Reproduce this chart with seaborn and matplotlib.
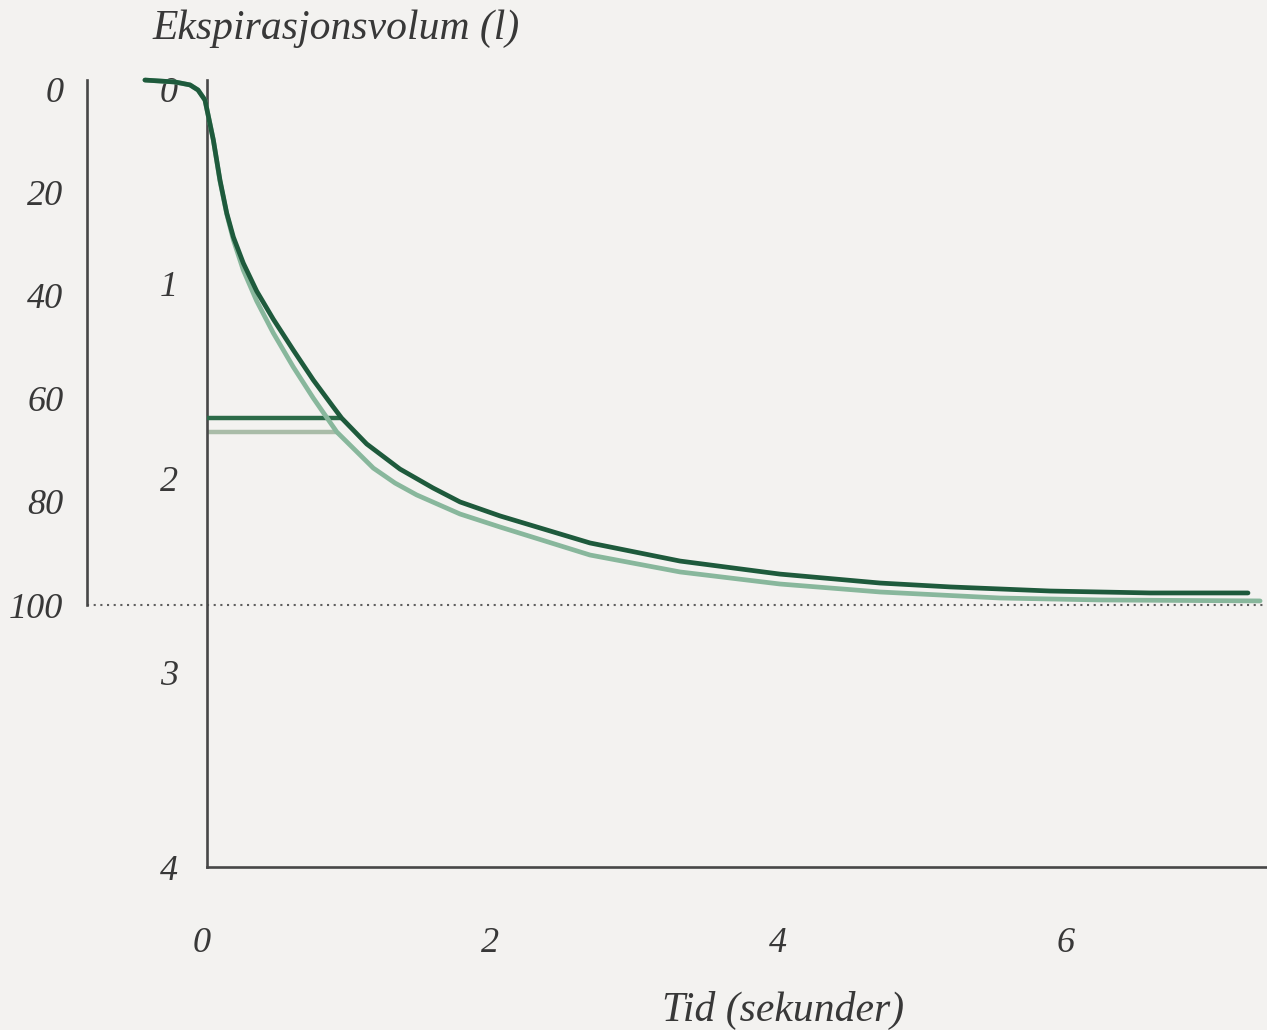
import numpy as np
import pandas as pd
import matplotlib
matplotlib.use("Agg")
import matplotlib.pyplot as plt
from matplotlib.transforms import ScaledTranslation
import seaborn as sns

# Expiratory volume (litres) over time (seconds) for the measured blow
tid_maalt = [-0.431, -0.222, -0.118, -0.0625, -0.014, 0.044, 0.090, 0.137, 0.183,
             0.252, 0.345, 0.460, 0.599, 0.738, 0.877, 0.935, 1.109, 1.340, 1.569,
             1.757, 2.035, 2.660, 3.285, 3.979, 4.674, 5.160, 5.854, 6.549, 7.229]
vol_maalt = [-0.046, -0.036, -0.021, 0.005, 0.057, 0.262, 0.468, 0.638, 0.761,
             0.895, 1.039, 1.183, 1.342, 1.496, 1.635, 1.692, 1.825, 1.954, 2.051,
             2.123, 2.195, 2.334, 2.427, 2.494, 2.540, 2.560, 2.581, 2.591, 2.591]

# Reference (predicted) curve
tid_ref = [-0.431, -0.222, -0.118, -0.0625, -0.014, 0.044, 0.090, 0.137, 0.183,
           0.252, 0.345, 0.460, 0.599, 0.738, 0.901, 1.155, 1.306, 1.456, 1.757,
           2.035, 2.660, 3.285, 3.979, 4.674, 5.507, 6.201, 7.313]
vol_ref = [-0.046, -0.036, -0.021, 0.005, 0.057, 0.262, 0.473, 0.643, 0.776,
           0.931, 1.090, 1.254, 1.429, 1.589, 1.763, 1.949, 2.026, 2.087, 2.185,
           2.252, 2.396, 2.483, 2.545, 2.586, 2.617, 2.627, 2.632]

# FEV1 markers: volume and the time where the marker meets its curve
fev1_maalt, fev1_maalt_t = 1.692, 0.935
fev1_ref, fev1_ref_t = 1.763, 0.901

# Volume corresponding to 100 % on the percentage scale
vol_100 = 2.653

vol_ticks = [0, 1, 2, 3, 4]
tid_ticks = [0, 2, 4, 6]
pct_ticks = [0, 20, 40, 60, 80, 100]

BG = "#f3f2f0"
INK = "#383838"
SPINE = "#474747"
DARK = "#1e5a3c"
LIGHT = "#88b79c"

sns.set_theme(style="white")
plt.rcParams["font.family"] = ["Liberation Serif", "DejaVu Serif"]
plt.rcParams["font.style"] = "italic"

df = pd.concat([
    pd.DataFrame({"tid": tid_ref, "vol": vol_ref, "kurve": "ref"}),
    pd.DataFrame({"tid": tid_maalt, "vol": vol_maalt, "kurve": "maalt"}),
])

fig = plt.figure(figsize=(12.67, 10.30), dpi=100, facecolor=BG)
ax = fig.add_axes([0, 0, 1, 1], facecolor=BG)

x_min, x_max = -1.4375, 7.361
y_top, y_bot = -0.4576, 4.838
pct_axis_x = -0.833

# Dotted 100 % line
ax.hlines(vol_100, pct_axis_x, x_max, colors="#5e5e5e", linewidth=1.5,
          linestyles=(0, (1, 2.2)), zorder=1)

# FEV1 markers
ax.hlines(fev1_ref, 0, fev1_ref_t, colors="#a9bca8", linewidth=3.2, zorder=2)
ax.hlines(fev1_maalt, 0, fev1_maalt_t, colors="#2b6a48", linewidth=3.2, zorder=3)

sns.lineplot(data=df, x="tid", y="vol", hue="kurve",
             palette={"ref": LIGHT, "maalt": DARK}, hue_order=["ref", "maalt"],
             sort=False, estimator=None, legend=False, ax=ax, linewidth=3.4, zorder=4)
for ln in ax.get_lines():
    ln.set_solid_capstyle("round")
    ln.set_solid_joinstyle("round")

ax.set_xlim(x_min, x_max)
ax.set_ylim(y_bot, y_top)

for s in ("top", "right"):
    ax.spines[s].set_visible(False)
ax.spines["left"].set_position(("data", 0))
ax.spines["left"].set_bounds(-0.046, 4)
ax.spines["bottom"].set_position(("data", 4))
ax.spines["bottom"].set_bounds(0, x_max)
for s in ("left", "bottom"):
    ax.spines[s].set_color(SPINE)
    ax.spines[s].set_linewidth(1.9)

ax.set_xticks(tid_ticks)
ax.set_yticks(vol_ticks)
ax.set_xticklabels([str(v) for v in tid_ticks])
ax.set_yticklabels([str(v) for v in vol_ticks])
ax.tick_params(axis="x", length=0, pad=43, labelsize=26, labelcolor=INK)
ax.tick_params(axis="y", length=0, pad=21, labelsize=26, labelcolor=INK)
shift = ScaledTranslation(-5 / 100, 0, fig.dpi_scale_trans)
for lbl in ax.get_xticklabels():
    lbl.set_transform(lbl.get_transform() + shift)
ax.set_xlabel("")
ax.set_ylabel("")

# Percentage scale on the far left
pax = ax.twinx()
pax.set_ylim(y_bot * 100 / vol_100, y_top * 100 / vol_100)
pax.patch.set_visible(False)
for s in ("top", "right", "bottom"):
    pax.spines[s].set_visible(False)
pax.spines["left"].set_visible(True)
pax.spines["left"].set_position(("data", pct_axis_x))
pax.spines["left"].set_bounds(-1.7, 100)
pax.spines["left"].set_color(SPINE)
pax.spines["left"].set_linewidth(1.9)
pax.yaxis.tick_left()
pax.set_yticks(pct_ticks)
pax.set_yticklabels([str(v) for v in pct_ticks])
pax.tick_params(axis="y", length=0, pad=17, labelsize=26, labelcolor=INK)

ax.text(0.12, 0.972, "Ekspirasjonsvolum (l)", transform=ax.transAxes,
        ha="left", va="center", fontsize=30, color=INK, style="italic")
ax.text(0.618, 0.019, "Tid (sekunder)", transform=ax.transAxes,
        ha="center", va="center", fontsize=30, color=INK, style="italic")

fig.savefig("out.png", dpi=100, facecolor=BG)
